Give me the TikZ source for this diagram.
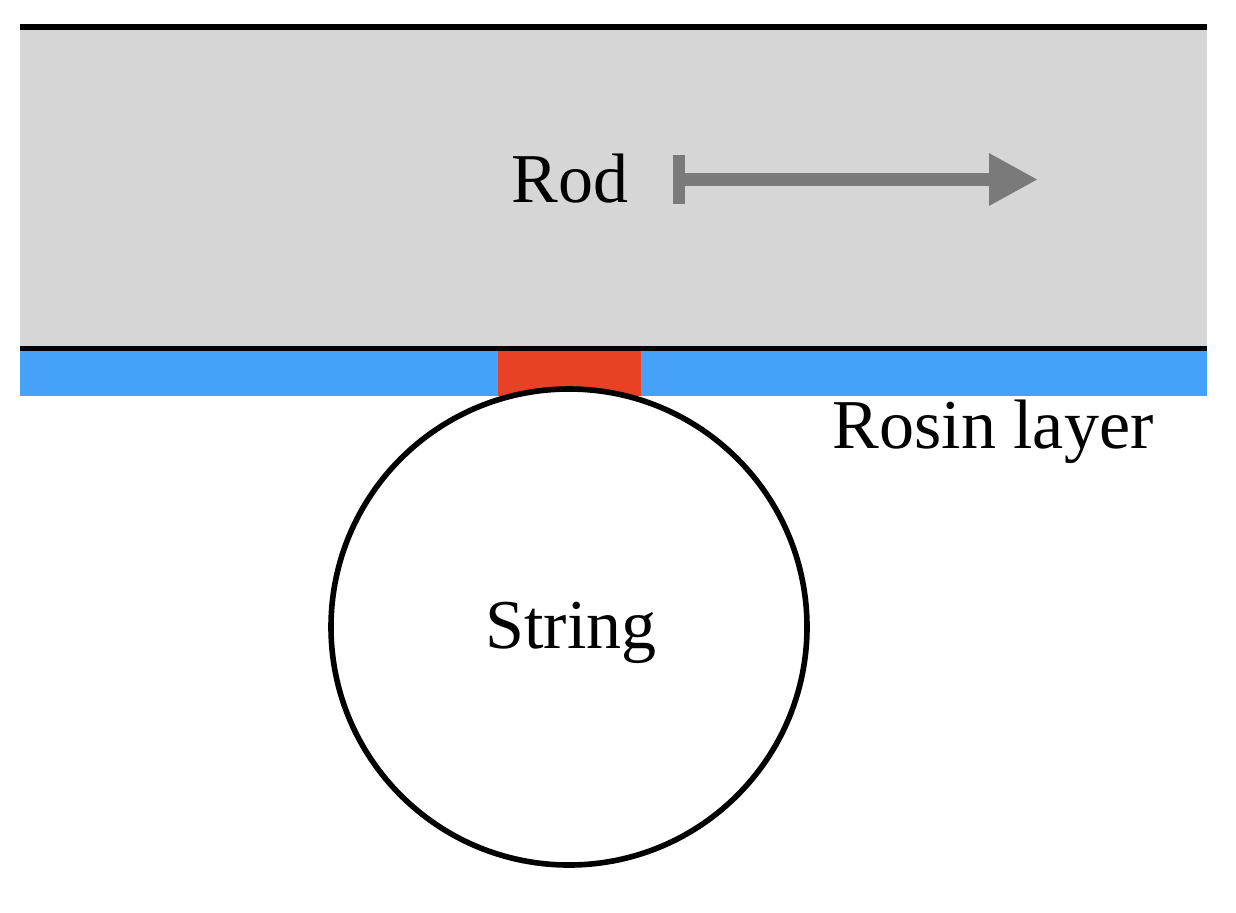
\documentclass[tikz,border=0pt]{standalone}
\usepackage{fontspec}
\setmainfont{Liberation Serif}
\usepackage{tikz}
\usetikzlibrary{arrows.meta,positioning}
\definecolor{rodgray}{HTML}{D6D6D6}
\definecolor{rosinblue}{HTML}{46A2F9}
\definecolor{contactred}{HTML}{E94125}
\definecolor{arrowgray}{HTML}{7A7A7A}
\tikzset{label/.style={font=\fontsize{35}{42}\selectfont,inner sep=0pt,anchor=base},
edge/.style={draw=black,line width=2.6pt},
motion/.style={{Bar[width=24.5pt,line width=6pt]}-{Triangle[length=24.5pt,width=24.5pt]},draw=arrowgray,line width=6.5pt}}
\begin{document}
\begin{tikzpicture}[x=0.5pt,y=-0.5pt]
\useasboundingbox (0,0) rectangle (1236,912);
\fill[rodgray] (20,28) rectangle (1207,348);
\fill[rosinblue] (20,349) rectangle (1207,396);
\fill[contactred] (498,349) rectangle (641,396);
\draw[edge,line width=3pt] (20,27)--(1207,27);
\draw[edge] (20,348.5)--(1207,348.5);
\node[label] (rod) at (570,202) {Rod};
\coordinate (mstart) at (673,179.5);
\coordinate (mend) at (1038,179.5);
\draw[motion] (mstart)--(mend);
\node[label] (rosin) at (993,448) {Rosin layer};
\node[circle,draw=black,fill=white,line width=2.8pt,minimum size=476*0.5pt,inner sep=0pt] (string) at (569,627) {};
\node[label] (stringtext) at (571,648) {String};
\end{tikzpicture}
\end{document}
